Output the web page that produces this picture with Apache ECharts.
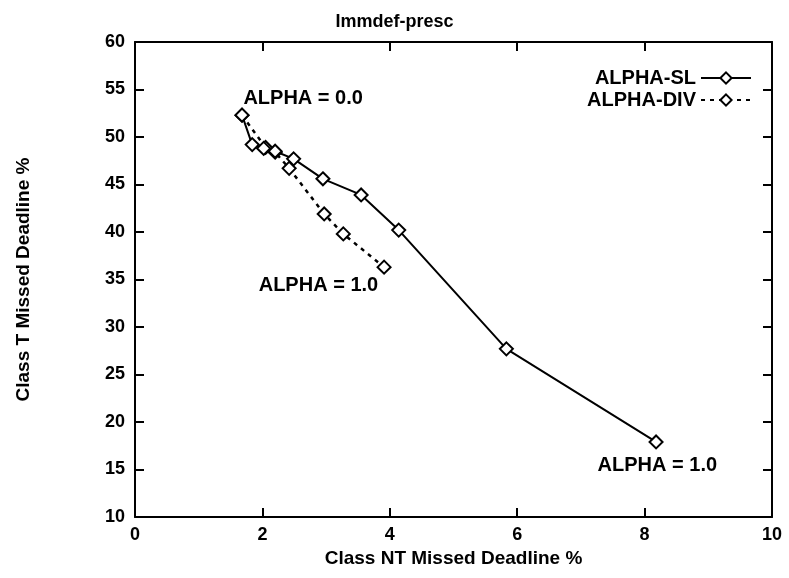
<!DOCTYPE html>
<html><head><meta charset="utf-8">
<script src="https://cdn.jsdelivr.net/npm/echarts@6/dist/echarts.min.js"></script>
<style>html,body{margin:0;padding:0;background:#fff}#c{width:789px;height:578px}</style>
</head><body><div id="c"></div>
<script>
const titleText = 'Immdef-presc';
const xName = 'Class NT Missed Deadline %';
const yName = 'Class T Missed Deadline %';
const seriesNames = ['ALPHA-SL', 'ALPHA-DIV'];
const slX = [1.68, 1.84, 2.02, 2.2, 2.49, 2.95, 3.55, 4.14, 5.83, 8.18];
const slY = [52.3, 49.2, 48.8, 48.5, 47.7, 45.6, 43.9, 40.2, 27.7, 17.9];
const divX = [1.68, 2.05, 2.2, 2.42, 2.97, 3.27, 3.91];
const divY = [52.3, 48.9, 48.4, 46.7, 41.9, 39.8, 36.3];
const noteText = ['ALPHA = 0.0', 'ALPHA = 1.0', 'ALPHA = 1.0'];
const noteX = [2.64, 2.88, 8.2];
const noteY = [54.1, 34.4, 15.4];

const font = 'Liberation Sans';
const zip = (a, b) => a.map((v, i) => [v, b[i]]);
const chart = echarts.init(document.getElementById('c'));
function mkAxis(extra) {
  return Object.assign({
    type: 'value',
    axisLine: {show: true, onZero: false, lineStyle: {color: '#000', width: 2}},
    axisTick: {show: true, inside: true, length: 9, lineStyle: {color: '#000', width: 2}},
    splitLine: {show: false}
  }, extra);
}
const tickFont = {fontFamily: font, fontSize: 18, fontWeight: 'bold', color: '#000'};
const nameFont = {fontFamily: font, fontSize: 19, fontWeight: 'bold', color: '#000'};
chart.setOption({
  animation: false,
  backgroundColor: '#fff',
  title: {text: titleText, left: 'center', top: 8,
    textStyle: {fontFamily: font, fontSize: 18, fontWeight: 'bold', color: '#000'}},
  grid: {left: 135, right: 17, top: 42, bottom: 61},
  legend: {
    right: 32, top: 63, orient: 'vertical', align: 'right', itemGap: 2,
    itemWidth: 50, itemHeight: 14,
    textStyle: {fontFamily: font, fontSize: 20, fontWeight: 'bold', color: '#000'},
    data: seriesNames
  },
  xAxis: [
    mkAxis({min: 0, max: 10, interval: 2, position: 'bottom',
      name: xName, nameLocation: 'middle', nameGap: 29, nameTextStyle: nameFont,
      axisLabel: Object.assign({margin: 9}, tickFont)}),
    mkAxis({min: 0, max: 10, interval: 2, position: 'top', axisLabel: {show: false}})
  ],
  yAxis: [
    mkAxis({min: 10, max: 60, interval: 5, position: 'left',
      name: yName, nameLocation: 'middle', nameGap: 102, nameTextStyle: nameFont,
      axisLabel: Object.assign({margin: 10}, tickFont)}),
    mkAxis({min: 10, max: 60, interval: 5, position: 'right', axisLabel: {show: false}})
  ],
  series: [
    {name: seriesNames[0], type: 'line', data: zip(slX, slY),
      symbol: 'diamond', symbolSize: 13, showAllSymbol: true,
      itemStyle: {color: '#fff', borderColor: '#000', borderWidth: 2},
      lineStyle: {color: '#000', width: 2, type: 'solid'}, z: 3},
    {name: seriesNames[1], type: 'line', data: zip(divX, divY),
      symbol: 'diamond', symbolSize: 13, showAllSymbol: true,
      itemStyle: {color: '#fff', borderColor: '#000', borderWidth: 2},
      lineStyle: {color: '#000', width: 2.5, type: [4, 5]}, z: 2},
    {name: 'notes', type: 'scatter', data: noteX.map((x, i) => ({value: [x, noteY[i]], name: noteText[i]})),
      symbolSize: 0, silent: true, itemStyle: {color: '#000', opacity: 1},
      label: {show: true, position: 'inside', formatter: p => p.name, opacity: 1,
        fontFamily: font, fontSize: 20, fontWeight: 'bold', color: '#000',
        textBorderWidth: 0, textBorderColor: 'transparent'}}
  ]
});
</script></body></html>
